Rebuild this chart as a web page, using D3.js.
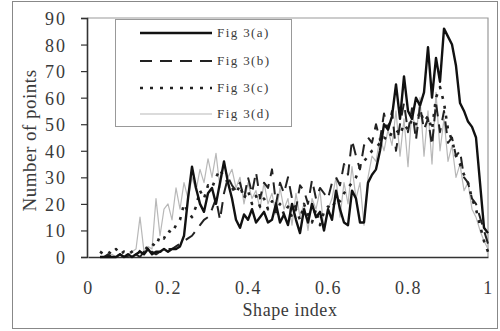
<!DOCTYPE html>
<html>
<head>
<meta charset="utf-8">
<script src="https://cdn.jsdelivr.net/npm/d3@7/dist/d3.min.js"></script>
<style>
  body { margin: 0; background: #fff; }
  svg { display: block; font-family: "Liberation Serif", "Times New Roman", serif; }
</style>
</head>
<body>
<svg id="chart" width="500" height="331"></svg>
<script>
// shape index, 0.03 .. 1.00 step 0.01
const shapeIndex = d3.range(3, 101).map(i => i / 100);

const fig3a = [0,0,0,0,0,1,0,1,0,1,2,1,3,1,2,2,3,2,3,3,4,8,22,34,26,20,17,24,26,20,28,36,28,22,14,11,16,14,18,13,15,17,13,14,20,13,16,12,20,14,9,18,13,20,15,17,10,18,14,25,18,13,12,25,22,13,13,28,31,33,40,50,48,53,65,52,68,55,52,60,57,62,79,60,75,66,86,83,80,72,58,55,51,49,45,28,11,9];
const fig3b = [0,0,1,0,0,1,0,0,0,1,0,2,1,2,1,2,2,3,3,4,5,6,7,8,10,12,14,15,18,22,14,24,30,27,25,28,22,30,24,32,22,28,26,33,20,28,24,30,22,18,27,25,20,29,22,26,24,22,28,30,27,35,31,44,38,33,42,45,43,50,44,54,48,55,40,50,58,47,56,44,57,48,52,42,58,47,55,43,45,38,40,30,28,22,20,15,10,5];
const fig3c = [2,1,2,1,3,1,2,1,2,3,2,4,3,5,4,8,7,10,9,12,14,20,17,15,19,25,22,27,26,30,33,30,28,26,24,27,22,25,20,23,19,22,18,21,17,20,16,19,15,18,14,20,16,13,18,12,17,19,18,22,21,24,26,28,30,34,36,38,40,41,43,45,44,47,48,46,50,48,52,50,55,51,53,48,60,64,58,48,44,38,35,31,28,22,18,12,6,2];
const fig3d = [0,0,0,1,0,1,0,1,2,3,15,2,4,3,22,8,18,20,14,26,18,28,22,30,25,33,28,37,30,39,26,35,30,33,26,30,20,28,22,25,18,28,20,24,16,26,18,22,12,24,15,20,10,22,18,25,10,18,22,30,15,28,20,34,22,28,12,30,38,36,45,40,48,42,55,38,52,34,56,45,60,38,55,35,62,40,52,36,42,30,35,25,28,18,15,10,6,3];

const xTicks = [0, 0.2, 0.4, 0.6, 0.8, 1];
const yTicks = [0, 10, 20, 30, 40, 50, 60, 70, 80, 90];
const seriesNames = ["Fig 3(a)", "Fig 3(b)", "Fig 3(c)", "Fig 3(d)"];

const svg = d3.select("#chart");
const plot = { left: 87, right: 488, top: 18, bottom: 257 };
const textColor = "#3a3a3a";

// outer frame
svg.append("rect")
  .attr("x", 12.5).attr("y", 1.5)
  .attr("width", 485).attr("height", 327)
  .attr("fill", "none").attr("stroke", "#888").attr("stroke-width", 1);

const x = d3.scaleLinear().domain([0, 1]).range([plot.left + 1, plot.right]);
const y = d3.scaleLinear().domain([0, 90]).range([plot.bottom, plot.top]);

// plot area border (top / right)
svg.append("path")
  .attr("d", `M${plot.left},${plot.top}H${plot.right}V${plot.bottom}`)
  .attr("fill", "none").attr("stroke", "#999").attr("stroke-width", 1.2);

// y axis
const yAxis = svg.append("g")
  .attr("transform", `translate(${plot.left},0)`)
  .call(d3.axisLeft(y).tickValues(yTicks).tickSize(6).tickPadding(14));
yAxis.select(".domain").attr("stroke", "#333").attr("stroke-width", 1.6);
yAxis.selectAll(".tick line").attr("stroke", "#333").attr("stroke-width", 1.2);
yAxis.selectAll("text").attr("font-size", 18).attr("fill", textColor)
  .attr("letter-spacing", 2).attr("dy", "0.36em")
  .attr("font-family", "Liberation Serif, serif");

// x axis
const xAxis = svg.append("g")
  .attr("transform", `translate(0,${plot.bottom})`)
  .call(d3.axisBottom(x).tickValues(xTicks).tickSize(0).tickPadding(24)
    .tickFormat(d => d3.format("")(d)));
xAxis.select(".domain").attr("stroke", "#333").attr("stroke-width", 1.6);
xAxis.selectAll("text").attr("font-size", 18).attr("fill", textColor)
  .attr("letter-spacing", 1.5)
  .attr("font-family", "Liberation Serif, serif");

// axis titles
svg.append("text")
  .attr("x", 290).attr("y", 316)
  .attr("text-anchor", "middle").attr("font-size", 18).attr("fill", textColor)
  .attr("letter-spacing", 0.6)
  .text("Shape index");

svg.append("text")
  .attr("transform", `translate(36,${(plot.top + plot.bottom) / 2 + 3}) rotate(-90)`)
  .attr("text-anchor", "middle").attr("font-size", 19).attr("fill", textColor)
  .attr("letter-spacing", 0.5)
  .text("Number of points");

const styles = [
  { stroke: "#111", width: 2.4, dash: null },
  { stroke: "#222", width: 2, dash: "12,8" },
  { stroke: "#222", width: 2.6, dash: "3,7" },
  { stroke: "#b8b8b8", width: 1.2, dash: null }
];
const allSeries = [fig3a, fig3b, fig3c, fig3d];

const line = d3.line()
  .x((d, i) => x(shapeIndex[i]))
  .y(d => y(d));

// draw grey first, solid last
[3, 2, 1, 0].forEach(k => {
  svg.append("path")
    .datum(allSeries[k])
    .attr("fill", "none")
    .attr("stroke", styles[k].stroke)
    .attr("stroke-width", styles[k].width)
    .attr("stroke-dasharray", styles[k].dash)
    .attr("stroke-linejoin", "round")
    .attr("d", line);
});

// legend
const lg = svg.append("g");
lg.append("rect")
  .attr("x", 115.5).attr("y", 19.5).attr("width", 176).attr("height", 107)
  .attr("fill", "#fff").attr("stroke", "#999").attr("stroke-width", 1);
const rowY = [33, 61, 88, 114];
seriesNames.forEach((name, k) => {
  lg.append("line")
    .attr("x1", 140).attr("x2", 212)
    .attr("y1", rowY[k]).attr("y2", rowY[k])
    .attr("stroke", styles[k].stroke)
    .attr("stroke-width", styles[k].width)
    .attr("stroke-dasharray", styles[k].dash);
  lg.append("text")
    .attr("x", 217).attr("y", rowY[k] + 4)
    .attr("font-size", 13).attr("fill", textColor)
    .attr("letter-spacing", 1.4)
    .text(name);
});
</script>
</body>
</html>
